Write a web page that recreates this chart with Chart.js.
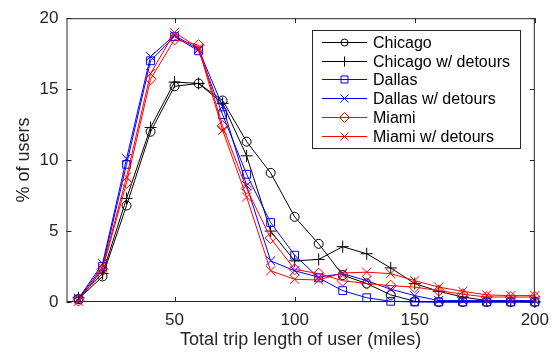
<!DOCTYPE html>
<html>
<head>
<meta charset="utf-8">
<script src="https://cdn.jsdelivr.net/npm/chart.js@4/dist/chart.umd.min.js"></script>
<style>
  html, body { margin: 0; padding: 0; background: #fff; }
  #wrap { width: 557px; height: 353px; }
</style>
</head>
<body>
<div id="wrap"><canvas id="myCanvas" width="557" height="353"></canvas></div>
<script>
const tripLength = [10, 20, 30, 40, 50, 60, 70, 80, 90, 100, 110, 120, 130, 140, 150, 160, 170, 180, 190, 200];
const chicago = [0.2, 1.8, 6.8, 12.0, 15.2, 15.4, 14.2, 11.3, 9.1, 6.0, 4.1, 1.9, 1.3, 0.5, 0.05, 0, 0, 0, 0, 0];
const chicagoDetours = [0.3, 2.0, 7.3, 12.3, 15.5, 15.4, 14.0, 10.3, 5.0, 2.9, 3.0, 3.9, 3.4, 2.4, 1.3, 0.75, 0.35, 0.1, 0.05, 0];
const dallas = [0.2, 2.5, 9.7, 17.0, 18.7, 17.7, 13.2, 9.0, 5.6, 3.3, 1.7, 0.8, 0.3, 0.05, 0, 0, 0, 0, 0, 0];
const dallasDetours = [0.25, 2.7, 10.1, 17.3, 18.8, 17.8, 13.8, 8.2, 2.9, 2.2, 1.75, 2.0, 1.5, 0.9, 0.45, 0.1, 0.1, 0.1, 0.1, 0.1];
const miami = [0.1, 2.3, 8.4, 15.7, 18.5, 18.1, 12.4, 8.0, 4.5, 2.3, 2.0, 1.5, 1.3, 1.15, 1.05, 0.8, 0.55, 0.35, 0.35, 0.35];
const miamiDetours = [0.05, 2.4, 8.8, 16.1, 19.0, 17.9, 12.1, 7.4, 2.2, 1.6, 1.55, 2.05, 2.1, 2.0, 1.5, 1.05, 0.75, 0.5, 0.45, 0.45];

const xTicks = [50, 100, 150, 200];
const yTicks = [0, 5, 10, 15, 20];

const seriesNames = ['Chicago', 'Chicago w/ detours', 'Dallas', 'Dallas w/ detours', 'Miami', 'Miami w/ detours'];
const seriesValues = [chicago, chicagoDetours, dallas, dallasDetours, miami, miamiDetours];
const seriesColors = ['#000000', '#000000', '#0000ff', '#0000ff', '#ff0000', '#ff0000'];
const seriesMarkers = ['circle', 'cross', 'rect', 'crossRot', 'rectRot', 'crossRot'];
const markerSizes = [4.5, 6, 5.5, 6.5, 5.5, 6.5];

const FONT = '"Liberation Sans", Arial, Helvetica, sans-serif';
const AXIS = '#262626';

const datasets = seriesNames.map((name, i) => ({
   label: name,
   data: tripLength.map((x, j) => ({ x: x, y: seriesValues[i][j] })),
   borderColor: seriesColors[i],
   borderWidth: 1,
   backgroundColor: 'rgba(0,0,0,0)',
   pointStyle: seriesMarkers[i],
   pointRadius: markerSizes[i],
   pointBorderColor: seriesColors[i],
   pointBackgroundColor: 'rgba(0,0,0,0)',
   pointBorderWidth: 1,
   tension: 0,
   clip: false,
   order: 5 - i
}));

// frame with inward ticks, drawn under the lines
const framePlugin = {
   id: 'frame',
   beforeDatasetsDraw(chart) {
      const { ctx, chartArea: a, scales } = chart;
      ctx.save();
      ctx.strokeStyle = AXIS;
      ctx.lineWidth = 1;
      ctx.strokeRect(a.left + 0.5, a.top + 0.5, a.right - a.left - 1, a.bottom - a.top - 1);
      ctx.beginPath();
      xTicks.forEach(v => {
         const px = Math.round(scales.x.getPixelForValue(v)) + 0.5;
         ctx.moveTo(px, a.bottom); ctx.lineTo(px, a.bottom - 5);
         ctx.moveTo(px, a.top); ctx.lineTo(px, a.top + 5);
      });
      yTicks.forEach(v => {
         const py = Math.round(scales.y.getPixelForValue(v)) + 0.5;
         ctx.moveTo(a.left, py); ctx.lineTo(a.left + 5, py);
         ctx.moveTo(a.right, py); ctx.lineTo(a.right - 5, py);
      });
      ctx.stroke();
      ctx.restore();
   }
};

function legendMarker(ctx, style, x, y) {
   ctx.beginPath();
   if (style === 'circle') {
      ctx.arc(x, y, 3.5, 0, Math.PI * 2);
   } else if (style === 'cross') {
      ctx.moveTo(x - 5, y); ctx.lineTo(x + 5, y);
      ctx.moveTo(x, y - 5); ctx.lineTo(x, y + 5);
   } else if (style === 'rect') {
      ctx.rect(x - 3.5, y - 3.5, 7, 7);
   } else if (style === 'crossRot') {
      ctx.moveTo(x - 4, y - 4); ctx.lineTo(x + 4, y + 4);
      ctx.moveTo(x - 4, y + 4); ctx.lineTo(x + 4, y - 4);
   } else if (style === 'rectRot') {
      ctx.moveTo(x, y - 5); ctx.lineTo(x + 5, y);
      ctx.lineTo(x, y + 5); ctx.lineTo(x - 5, y);
      ctx.closePath();
   }
   ctx.stroke();
}

// boxed legend with line + marker samples
const legendPlugin = {
   id: 'boxLegend',
   afterDraw(chart) {
      const ctx = chart.ctx;
      const bx = 312.5, by = 30.5, bw = 208, bh = 118;
      ctx.save();
      ctx.fillStyle = '#fff';
      ctx.fillRect(bx, by, bw, bh);
      ctx.strokeStyle = AXIS;
      ctx.lineWidth = 1;
      ctx.strokeRect(bx, by, bw, bh);
      ctx.font = '16px ' + FONT;
      ctx.textBaseline = 'middle';
      seriesNames.forEach((name, i) => {
         const y = Math.round(42 + i * 18.7) + 0.5;
         ctx.strokeStyle = seriesColors[i];
         ctx.lineWidth = 1;
         ctx.beginPath();
         ctx.moveTo(322, y); ctx.lineTo(367, y);
         ctx.stroke();
         legendMarker(ctx, seriesMarkers[i], 344.5, y);
         ctx.fillStyle = '#000';
         ctx.fillText(name, 373, y + 1);
      });
      ctx.restore();
   }
};

new Chart(document.getElementById('myCanvas').getContext('2d'), {
   type: 'line',
   data: { datasets: datasets },
   options: {
      responsive: false,
      animation: false,
      layout: { padding: { left: 0, right: 21, top: 15, bottom: 0 } },
      plugins: {
         legend: { display: false },
         tooltip: { enabled: false }
      },
      scales: {
         x: {
            type: 'linear',
            min: 5,
            max: 200,
            afterBuildTicks: s => { s.ticks = xTicks.map(v => ({ value: v })); },
            afterFit: s => { s.height = 51; },
            grid: { display: false, drawTicks: false },
            border: { display: false },
            ticks: { color: AXIS, font: { family: FONT, size: 17 }, padding: 8 },
            title: {
               display: true,
               text: 'Total trip length of user (miles)',
               color: AXIS,
               font: { family: FONT, size: 18 },
               padding: { top: 2, bottom: 2 }
            }
         },
         y: {
            type: 'linear',
            min: 0,
            max: 20,
            afterBuildTicks: s => { s.ticks = yTicks.map(v => ({ value: v })); },
            afterFit: s => { s.width = 66.5; },
            grid: { display: false, drawTicks: false },
            border: { display: false },
            ticks: { color: AXIS, font: { family: FONT, size: 17 }, padding: 8 },
            title: {
               display: true,
               text: '% of users',
               color: AXIS,
               font: { family: FONT, size: 18 },
               padding: { top: 13, bottom: 2 }
            }
         }
      }
   },
   plugins: [framePlugin, legendPlugin]
});
</script>
</body>
</html>
